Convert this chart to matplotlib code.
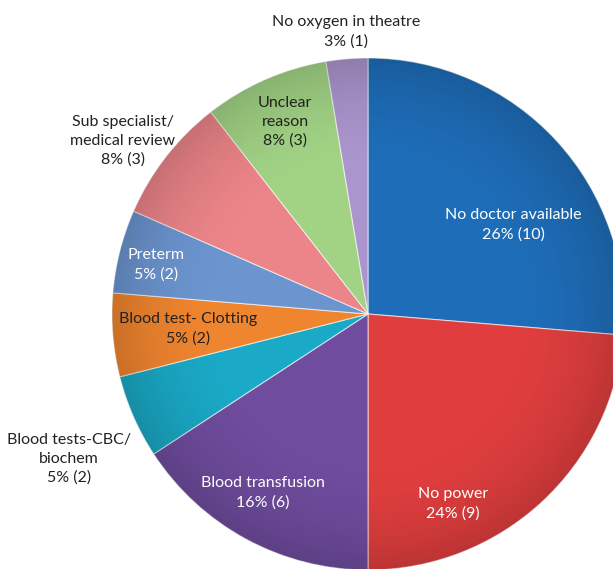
import matplotlib
matplotlib.use("Agg")
import matplotlib.pyplot as plt
import numpy as np

# causes of delay, counts
causes = ["No doctor available", "No power", "Blood transfusion",
          "Blood tests-CBC/\nbiochem", "Blood test- Clotting", "Preterm",
          "Sub specialist/\nmedical review", "Unclear\nreason",
          "No oxygen in theatre"]
counts = [10, 9, 6, 2, 2, 2, 3, 3, 1]
percents = [26, 24, 16, 5, 5, 5, 8, 8, 3]

colors = ["#1E6DB8", "#E03E3E", "#6F4C9E", "#1AA9C6", "#F0852F",
          "#6C95D0", "#EC8589", "#A2D385", "#AA95CC"]
text_colors = ["white", "white", "white", "#222222", "#222222",
               "white", "#222222", "#222222", "#222222"]
# label centres in image pixels (x, y from top)
label_pos = [(513, 225), (453, 504), (263, 493), (69, 459), (188, 329),
             (156, 265), (123, 141), (285, 122), (346, 32)]

W, H = 613, 569
fig = plt.figure(figsize=(W / 100, H / 100), dpi=100)
ax = fig.add_axes([0, 0, 1, 1])

cx, cy, r = 368, H - 314, 256
wedges, _ = ax.pie(counts, colors=colors, startangle=90, counterclock=False,
                   center=(cx, cy), radius=r, frame=True,
                   wedgeprops=dict(edgecolor=(1, 1, 1, 0.6), linewidth=0.8))
ax.set_xlim(0, W)
ax.set_ylim(0, H)
ax.set_aspect("equal")
ax.axis("off")

# slight darkening towards the rim
yy, xx = np.mgrid[0:H, 0:W]
dist = np.sqrt((xx - cx) ** 2 + (yy - cy) ** 2) / r
shade = np.zeros((H, W, 4))
shade[..., 3] = np.clip((dist - 0.55) / 0.45, 0, 1) ** 2 * 0.16
img = ax.imshow(shade, extent=(0, W, 0, H), origin="lower", zorder=3)
circ = plt.Circle((cx, cy), r, transform=ax.transData)
img.set_clip_path(circ)

for name, p, c, tc, (lx, ly) in zip(causes, percents, counts, text_colors, label_pos):
    ax.text(lx, H - ly, "{}\n{}% ({})".format(name, p, c), ha="center", va="center",
            color=tc, fontsize=11.5, family="Lato", linespacing=1.45, zorder=5)

fig.savefig("out.png", dpi=100)
